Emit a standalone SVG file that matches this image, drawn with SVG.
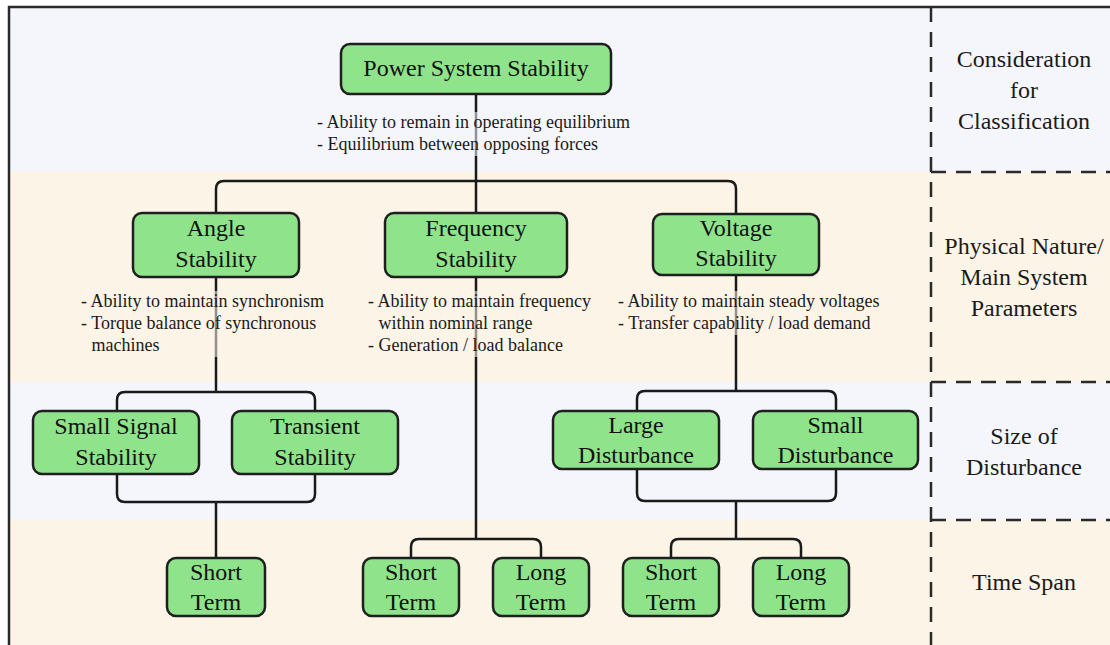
<svg xmlns="http://www.w3.org/2000/svg" width="1110" height="645" viewBox="0 0 1110 645">
<style>
.band-b{fill:#f4f6fb}
.band-c{fill:#fcf4e7}
.node rect{fill:#8fe38b;stroke:#1f1f1f;stroke-width:2.5}
.node text{font-family:"Liberation Serif","Times New Roman",serif;font-size:24px;fill:#111;text-anchor:middle}
.desc text{font-family:"Liberation Serif","Times New Roman",serif;font-size:18px;fill:#1a1a1a}
.lab text{font-family:"Liberation Serif","Times New Roman",serif;font-size:24px;fill:#1a1a1a;text-anchor:middle}
.conn path{fill:none;stroke:#1a1a1a;stroke-width:2.5}
.dash{fill:none;stroke:#2a2a2a;stroke-width:2.5;stroke-dasharray:15 10}
</style>
<rect x="0" y="0" width="1110" height="645" fill="#ffffff"/>
<g id="bands">
<rect class="band-b" x="9" y="7" width="1101" height="165"/>
<rect class="band-c" x="9" y="172" width="1101" height="210"/>
<rect class="band-b" x="9" y="382" width="1101" height="138"/>
<rect class="band-c" x="9" y="520" width="1101" height="125"/>
</g>
<rect x="9" y="7" width="1110" height="650" fill="none" stroke="#2a2a2a" stroke-width="2.5"/>
<g id="dividers">
<path class="dash" d="M931,7 V645"/>
<path class="dash" d="M931,172 H1110"/>
<path class="dash" d="M931,382 H1110"/>
<path class="dash" d="M931,520 H1110"/>
</g>
<g id="connectors" class="conn">
<path d="M476,94 V213"/>
<path d="M216,213 V189 Q216,181 224,181 H728 Q736,181 736,189 V214"/>
<path d="M216,277 V392"/>
<path d="M117,411 V400 Q117,392 125,392 H307 Q315,392 315,400 V411"/>
<path d="M117,474 V494 Q117,502 125,502 H307 Q315,502 315,494 V474"/>
<path d="M216,502 V558"/>
<path d="M476,277 V539"/>
<path d="M411,558 V547 Q411,539 419,539 H533 Q541,539 541,547 V558"/>
<path d="M736,275 V391"/>
<path d="M637,411 V399 Q637,391 645,391 H828 Q836,391 836,399 V411"/>
<path d="M637,469 V493 Q637,501 645,501 H828 Q836,501 836,493 V469"/>
<path d="M736,501 V539"/>
<path d="M671,558 V547 Q671,539 679,539 H793 Q801,539 801,547 V558"/>
</g>
<g id="desc-power" class="desc">
<rect x="315" y="112" width="322" height="44" fill="#f4f6fb" opacity="0.55"/>
<text x="317" y="128">- Ability to remain in operating equilibrium</text>
<text x="317" y="150">- Equilibrium between opposing forces</text>
</g>
<g id="desc-angle" class="desc">
<rect x="78" y="291" width="254" height="66" fill="#fcf4e7" opacity="0.55"/>
<text x="81" y="307">- Ability to maintain synchronism</text>
<text x="81" y="329">- Torque balance of synchronous</text>
<text x="91.5" y="351">machines</text>
</g>
<g id="desc-frequency" class="desc">
<rect x="365" y="291" width="232" height="66" fill="#fcf4e7" opacity="0.55"/>
<text x="368" y="307">- Ability to maintain frequency</text>
<text x="378.5" y="329">within nominal range</text>
<text x="368" y="351">- Generation / load balance</text>
</g>
<g id="desc-voltage" class="desc">
<rect x="615" y="291" width="274" height="44" fill="#fcf4e7" opacity="0.55"/>
<text x="618" y="307">- Ability to maintain steady voltages</text>
<text x="618" y="329">- Transfer capability / load demand</text>
</g>
<g id="node-power" class="node">
<rect x="341" y="44" width="270" height="50" rx="9"/>
<text x="476" y="76">Power System Stability</text>
</g>
<g id="node-angle" class="node">
<rect x="133" y="213" width="166" height="64" rx="9"/>
<text x="216" y="236">Angle</text>
<text x="216" y="267">Stability</text>
</g>
<g id="node-frequency" class="node">
<rect x="385" y="213" width="182" height="64" rx="9"/>
<text x="476" y="236">Frequency</text>
<text x="476" y="267">Stability</text>
</g>
<g id="node-voltage" class="node">
<rect x="653" y="214" width="166" height="61" rx="9"/>
<text x="736" y="236">Voltage</text>
<text x="736" y="266">Stability</text>
</g>
<g id="node-small-signal" class="node">
<rect x="33" y="411" width="166" height="63" rx="9"/>
<text x="116" y="434">Small Signal</text>
<text x="116" y="465">Stability</text>
</g>
<g id="node-transient" class="node">
<rect x="232" y="411" width="166" height="63" rx="9"/>
<text x="315" y="434">Transient</text>
<text x="315" y="465">Stability</text>
</g>
<g id="node-large-dist" class="node">
<rect x="553" y="411" width="166" height="58" rx="9"/>
<text x="636" y="433">Large</text>
<text x="636" y="463">Disturbance</text>
</g>
<g id="node-small-dist" class="node">
<rect x="753" y="411" width="165" height="58" rx="9"/>
<text x="835.5" y="433">Small</text>
<text x="835.5" y="463">Disturbance</text>
</g>
<g id="node-angle-short" class="node">
<rect x="167" y="558" width="98" height="58" rx="9"/>
<text x="216" y="580">Short</text>
<text x="216" y="610">Term</text>
</g>
<g id="node-freq-short" class="node">
<rect x="363" y="558" width="96" height="58" rx="9"/>
<text x="411" y="580">Short</text>
<text x="411" y="610">Term</text>
</g>
<g id="node-freq-long" class="node">
<rect x="493" y="558" width="96" height="58" rx="9"/>
<text x="541" y="580">Long</text>
<text x="541" y="610">Term</text>
</g>
<g id="node-volt-short" class="node">
<rect x="623" y="558" width="96" height="58" rx="9"/>
<text x="671" y="580">Short</text>
<text x="671" y="610">Term</text>
</g>
<g id="node-volt-long" class="node">
<rect x="753" y="558" width="96" height="58" rx="9"/>
<text x="801" y="580">Long</text>
<text x="801" y="610">Term</text>
</g>
<g id="labels" class="lab">
<text x="1024" y="67">Consideration</text>
<text x="1024" y="98">for</text>
<text x="1024" y="129">Classification</text>
<text x="1024" y="254">Physical Nature/</text>
<text x="1024" y="285">Main System</text>
<text x="1024" y="316">Parameters</text>
<text x="1024" y="444">Size of</text>
<text x="1024" y="475">Disturbance</text>
<text x="1024" y="590">Time Span</text>
</g>
</svg>
